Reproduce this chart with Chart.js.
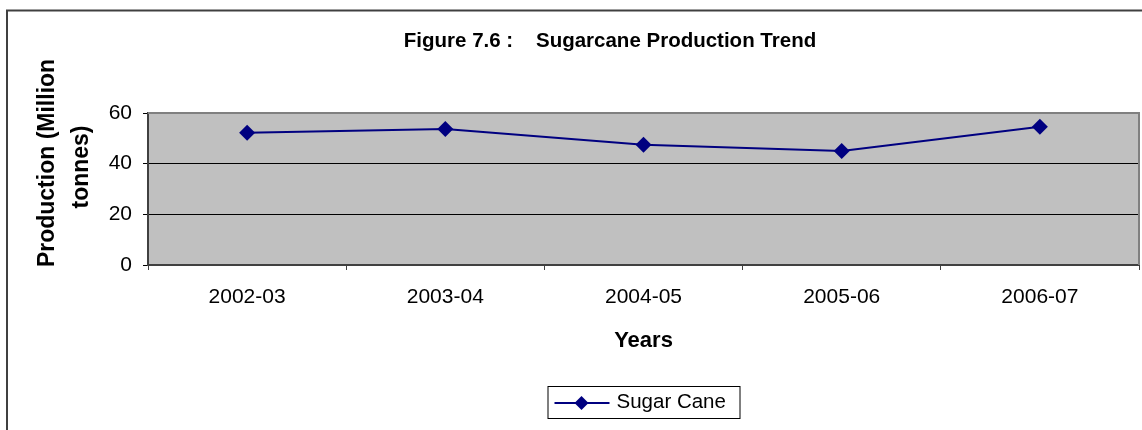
<!DOCTYPE html>
<html>
<head>
<meta charset="utf-8">
<script src="https://cdn.jsdelivr.net/npm/chart.js@4.4.1/dist/chart.umd.min.js"></script>
<style>
  body { margin: 0; background: #fff; }
  #wrap { width: 1142px; height: 430px; }
</style>
</head>
<body>
<div id="wrap"><canvas id="myChart" width="1142" height="430"></canvas></div>
<script>
// chart data
const years = ['2002-03', '2003-04', '2004-05', '2005-06', '2006-07'];
const production = [52.2, 53.7, 47.5, 45.0, 54.6];
const seriesName = 'Sugar Cane';
const chartTitle = 'Figure 7.6 :    Sugarcane Production Trend';
const yTitle = ['Production (Million', 'tonnes)'];
const xTitle = 'Years';

const FONT = "'Liberation Sans', Arial, sans-serif";
const NAVY = '#000080';

// grey plot area, outer frame, title, y title and legend box
const decorPlugin = {
  id: 'decor',
  beforeDraw(chart) {
    const ctx = chart.ctx;
    const a = chart.chartArea;
    ctx.save();
    ctx.fillStyle = '#c0c0c0';
    ctx.fillRect(a.left, a.top, a.right - a.left, a.bottom - a.top);
    ctx.restore();
  },
  afterDraw(chart) {
    const ctx = chart.ctx;
    const a = chart.chartArea;
    ctx.save();

    // plot border top + right
    ctx.strokeStyle = '#808080';
    ctx.lineWidth = 2;
    ctx.beginPath();
    ctx.moveTo(a.left, a.top);
    ctx.lineTo(a.right, a.top);
    ctx.lineTo(a.right, a.bottom);
    ctx.stroke();

    // outer frame (runs off the right and bottom)
    ctx.strokeStyle = '#404040';
    ctx.lineWidth = 2;
    ctx.strokeRect(7, 10.5, 1200, 500);

    // chart title
    ctx.fillStyle = '#000';
    ctx.font = 'bold 20.5px ' + FONT;
    ctx.textAlign = 'center';
    ctx.textBaseline = 'middle';
    ctx.fillText(chartTitle, 610, 41);

    // y axis title, two lines
    ctx.font = 'bold 23px ' + FONT;
    ctx.save();
    ctx.translate(48, 163);
    ctx.rotate(-Math.PI / 2);
    ctx.fillText(yTitle[0], 0, 0);
    ctx.restore();
    ctx.save();
    ctx.translate(82, 167);
    ctx.rotate(-Math.PI / 2);
    ctx.fillText(yTitle[1], 0, 0);
    ctx.restore();

    // legend
    const cx = (a.left + a.right) / 2;
    const bx = cx - 96, by = 386, bw = 192, bh = 32;
    ctx.strokeStyle = '#000';
    ctx.lineWidth = 1;
    ctx.strokeRect(bx + 0.5, by + 0.5, bw, bh);
    const ly = by + bh / 2 + 1;
    ctx.strokeStyle = NAVY;
    ctx.lineWidth = 2;
    ctx.beginPath();
    ctx.moveTo(bx + 7, ly);
    ctx.lineTo(bx + 62, ly);
    ctx.stroke();
    const mx = bx + 34;
    ctx.fillStyle = NAVY;
    ctx.beginPath();
    ctx.moveTo(mx, ly - 7);
    ctx.lineTo(mx + 7, ly);
    ctx.lineTo(mx, ly + 7);
    ctx.lineTo(mx - 7, ly);
    ctx.closePath();
    ctx.fill();
    ctx.fillStyle = '#000';
    ctx.font = '20.5px ' + FONT;
    ctx.textAlign = 'left';
    ctx.fillText(seriesName, bx + 69, ly - 1);

    ctx.restore();
  }
};

const ctx = document.getElementById('myChart').getContext('2d');

new Chart(ctx, {
  type: 'line',
  data: {
    labels: years,
    datasets: [{
      label: seriesName,
      data: production,
      borderColor: NAVY,
      backgroundColor: NAVY,
      borderWidth: 2,
      pointStyle: 'rectRot',
      pointRadius: 8,
      pointBorderWidth: 0,
      tension: 0
    }]
  },
  options: {
    responsive: false,
    animation: false,
    layout: { autoPadding: false, padding: { top: 113, right: 3, bottom: 0, left: 0 } },
    plugins: {
      legend: { display: false },
      title: { display: false },
      tooltip: { enabled: false }
    },
    scales: {
      x: {
        offset: true,
        grid: {
          offset: true,
          drawOnChartArea: false,
          drawTicks: true,
          tickLength: 5,
          color: '#404040'
        },
        border: { color: '#404040', width: 2 },
        ticks: {
          color: '#000',
          padding: 15,
          font: { family: FONT, size: 21 }
        },
        title: {
          display: true,
          text: xTitle,
          color: '#000',
          font: { family: FONT, size: 22, weight: 'bold' },
          padding: { top: 0, bottom: 76 }
        },
        afterFit(scale) { scale.height = 165; }
      },
      y: {
        min: 0,
        max: 60,
        ticks: {
          stepSize: 20,
          color: '#000',
          padding: 11,
          font: { family: FONT, size: 21 }
        },
        grid: {
          color: '#000',
          lineWidth: 1,
          tickLength: 5
        },
        border: { color: '#404040', width: 2 },
        afterFit(scale) { scale.width = 148; }
      }
    }
  },
  plugins: [decorPlugin]
});
</script>
</body>
</html>
